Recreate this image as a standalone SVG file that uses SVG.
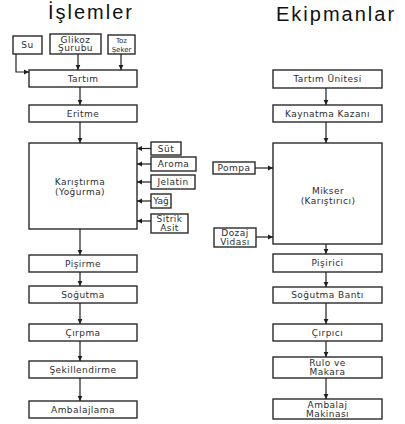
<svg xmlns="http://www.w3.org/2000/svg" width="405" height="424" viewBox="0 0 405 424">
  <style>
    .box { fill: #ffffff; stroke: #2a2a2a; stroke-width: 1.4; }
    .lbl { font-family: "DejaVu Sans", "Liberation Sans", sans-serif; font-size: 9px; letter-spacing: 0.45px; fill: #2e2e2e; text-anchor: middle; }
    .sm { font-size: 7px; letter-spacing: 0; }
    .ttl { font-family: "Liberation Sans", Arial, sans-serif; font-size: 20px; letter-spacing: 2px; fill: #111111; }
    .wire { fill: none; stroke: #1f1f1f; stroke-width: 1.2; marker-end: url(#tip); }
  </style>
  <defs>
    <marker id="tip" markerUnits="userSpaceOnUse" markerWidth="6" markerHeight="6" refX="5" refY="3" orient="auto">
      <path d="M0,0.6 L5,3 L0,5.4 Z" fill="#1f1f1f"/>
    </marker>
  </defs>
  <rect width="405" height="424" fill="#ffffff"/>

  <!-- column headings -->
  <text class="ttl" x="48" y="19">İşlemler</text>
  <text class="ttl" x="276" y="21">Ekipmanlar</text>

  <!-- process column -->
  <g id="su"><rect class="box" x="13" y="36" width="29" height="18"/><text class="lbl" x="27.5" y="48">Su</text></g>
  <g id="glikoz"><rect class="box" x="50" y="34" width="51" height="20"/><text class="lbl" x="75.5" y="42.5">Glikoz</text><text class="lbl" x="75.5" y="51">Şurubu</text></g>
  <g id="toz-seker"><rect class="box" x="108" y="35" width="27" height="19"/><text class="lbl sm" x="121.5" y="43">Toz</text><text class="lbl sm" x="121.5" y="51.5">Şeker</text></g>
  <g id="tartim"><rect class="box" x="29" y="70" width="108" height="17"/><text class="lbl" x="83" y="81.5">Tartım</text></g>
  <g id="eritme"><rect class="box" x="29" y="105" width="108" height="17"/><text class="lbl" x="83" y="116.5">Eritme</text></g>
  <g id="karistirma"><rect class="box" x="29" y="143" width="108" height="86"/><text class="lbl" x="80" y="185">Karıştırma</text><text class="lbl" x="80" y="194.5">(Yoğurma)</text></g>
  <g id="sut"><rect class="box" x="151" y="142" width="30" height="13"/><text class="lbl" x="166" y="151.5">Süt</text></g>
  <g id="aroma"><rect class="box" x="151" y="157" width="45" height="14"/><text class="lbl" x="173.5" y="167">Aroma</text></g>
  <g id="jelatin"><rect class="box" x="151" y="175" width="44" height="14"/><text class="lbl" x="173" y="185">Jelatin</text></g>
  <g id="yag"><rect class="box" x="151" y="194" width="20" height="14"/><text class="lbl" style="letter-spacing:0" x="161" y="204">Yağ</text></g>
  <g id="sitrik-asit"><rect class="box" x="151" y="214" width="37" height="19"/><text class="lbl" x="169.5" y="222">Sitrik</text><text class="lbl" x="169.5" y="230.5">Asit</text></g>
  <g id="pisirme"><rect class="box" x="29" y="255" width="108" height="17"/><text class="lbl" x="83" y="266.5">Pişirme</text></g>
  <g id="sogutma"><rect class="box" x="29" y="286" width="108" height="17"/><text class="lbl" x="83" y="297.5">Soğutma</text></g>
  <g id="cirpma"><rect class="box" x="29" y="324" width="108" height="17"/><text class="lbl" x="83" y="335.5">Çırpma</text></g>
  <g id="sekillendirme"><rect class="box" x="29" y="361" width="108" height="17"/><text class="lbl" x="83" y="372.5">Şekillendirme</text></g>
  <g id="ambalajlama"><rect class="box" x="29" y="401" width="108" height="17"/><text class="lbl" x="83" y="412.5">Ambalajlama</text></g>

  <!-- equipment column -->
  <g id="tartim-unitesi"><rect class="box" x="273" y="70" width="109" height="18"/><text class="lbl" x="327.5" y="82">Tartım Ünitesi</text></g>
  <g id="kaynatma-kazani"><rect class="box" x="273" y="105" width="109" height="17"/><text class="lbl" x="327.5" y="116.5">Kaynatma Kazanı</text></g>
  <g id="mikser"><rect class="box" x="273" y="143" width="109" height="101"/><text class="lbl" x="328" y="194">Mikser</text><text class="lbl" x="328" y="203.5">(Karıştırıcı)</text></g>
  <g id="pompa"><rect class="box" x="213" y="162" width="42" height="12"/><text class="lbl" x="234" y="171">Pompa</text></g>
  <g id="dozaj-vidasi"><rect class="box" x="214" y="228" width="42" height="19"/><text class="lbl" x="235" y="236">Dozaj</text><text class="lbl" x="235" y="244.5">Vidası</text></g>
  <g id="pisirici"><rect class="box" x="273" y="254" width="109" height="18"/><text class="lbl" x="327.5" y="266">Pişirici</text></g>
  <g id="sogutma-banti"><rect class="box" x="273" y="287" width="109" height="16"/><text class="lbl" x="327.5" y="298">Soğutma Bantı</text></g>
  <g id="cirpici"><rect class="box" x="273" y="324" width="109" height="17"/><text class="lbl" x="327.5" y="335.5">Çırpıcı</text></g>
  <g id="rulo-makara"><rect class="box" x="273" y="357" width="109" height="21"/><text class="lbl" x="327.5" y="366">Rulo ve</text><text class="lbl" x="327.5" y="375">Makara</text></g>
  <g id="ambalaj-makinasi"><rect class="box" x="273" y="399" width="109" height="20"/><text class="lbl" x="327.5" y="408">Ambalaj</text><text class="lbl" x="327.5" y="417">Makinası</text></g>

  <!-- connectors -->
  <g id="connectors">
    <path class="wire" d="M16,54 V72 H29"/>
    <path class="wire" d="M78,54 V70"/>
    <path class="wire" d="M121,54 V70"/>
    <path class="wire" d="M80,87 V105"/>
    <path class="wire" d="M80,122 V143"/>
    <path class="wire" d="M151,148.5 H137"/>
    <path class="wire" d="M151,164 H137"/>
    <path class="wire" d="M151,182 H137"/>
    <path class="wire" d="M151,201 H137"/>
    <path class="wire" d="M151,221 H137"/>
    <path class="wire" d="M80,229 V255"/>
    <path class="wire" d="M80,272 V286"/>
    <path class="wire" d="M80,303 V324"/>
    <path class="wire" d="M80,341 V361"/>
    <path class="wire" d="M80,378 V401"/>

    <path class="wire" d="M326,88 V105"/>
    <path class="wire" d="M326,122 V143"/>
    <path class="wire" d="M255,168 H273"/>
    <path class="wire" d="M256,237 H273"/>
    <path class="wire" d="M326,244 V254"/>
    <path class="wire" d="M326,272 V287"/>
    <path class="wire" d="M326,303 V324"/>
    <path class="wire" d="M326,341 V357"/>
    <path class="wire" d="M326,378 V399"/>
  </g>
</svg>
